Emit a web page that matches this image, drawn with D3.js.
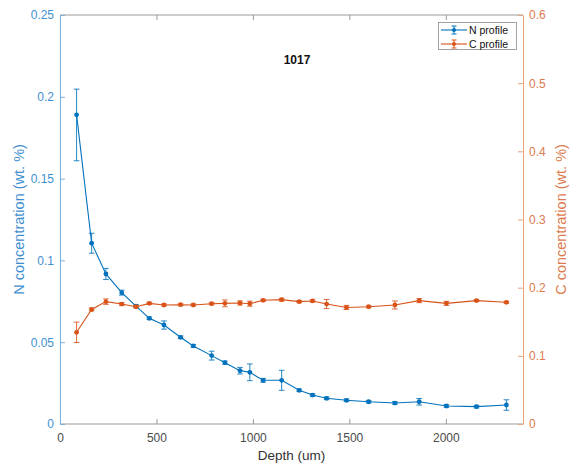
<!DOCTYPE html>
<html>
<head>
<meta charset="utf-8">
<script src="https://cdn.jsdelivr.net/npm/d3@7"></script>
<style>
  html, body { margin: 0; padding: 0; background: #fff; }
  svg { display: block; font-family: "Liberation Sans", Arial, Helvetica, sans-serif; }
</style>
</head>
<body>
<svg id="chart" width="575" height="470"></svg>
<script>
// Depth profile of sample 1017: N and C concentration versus depth
const title = "1017";

const nDepth = [86, 164, 238, 320, 394, 463, 539, 625, 691, 786, 855, 933, 984, 1053, 1149, 1240, 1309, 1382, 1485, 1600, 1736, 1862, 2003, 2159, 2314];
const nValue = [0.189, 0.1105, 0.0917, 0.0803, 0.0721, 0.0646, 0.0605, 0.0530, 0.0477, 0.0418, 0.0375, 0.0326, 0.0316, 0.0267, 0.0267, 0.0206, 0.0177, 0.0157, 0.0145, 0.0136, 0.0128, 0.0136, 0.0110, 0.0106, 0.0116];
// lower and upper error bar lengths
const nErrorLow = [0.0281, 0.0061, 0.0034, 0.0015, 0.0008, 0.0008, 0.0025, 0.0008, 0.0008, 0.0027, 0.0010, 0.0020, 0.0051, 0.0012, 0.0061, 0.0008, 0.0008, 0.0008, 0.0008, 0.0008, 0.0008, 0.0020, 0.0008, 0.0008, 0.0032];
const nErrorHigh = [0.0157, 0.0061, 0.0034, 0.0015, 0.0008, 0.0008, 0.0025, 0.0008, 0.0008, 0.0027, 0.0010, 0.0020, 0.0051, 0.0012, 0.0061, 0.0008, 0.0008, 0.0008, 0.0008, 0.0008, 0.0008, 0.0020, 0.0008, 0.0008, 0.0032];

const cDepth = [86, 164, 238, 320, 394, 463, 539, 625, 691, 786, 855, 933, 984, 1053, 1149, 1240, 1309, 1382, 1485, 1600, 1736, 1862, 2003, 2159, 2314];
const cValue = [0.1345, 0.168, 0.1795, 0.176, 0.172, 0.177, 0.1746, 0.175, 0.1746, 0.1765, 0.177, 0.1775, 0.1765, 0.1815, 0.1824, 0.1795, 0.1805, 0.176, 0.171, 0.172, 0.1746, 0.181, 0.177, 0.181, 0.1785];
const cErrorLow = [0.0149, 0.002, 0.004, 0.002, 0.0015, 0.0015, 0.0015, 0.0015, 0.0015, 0.0015, 0.005, 0.003, 0.0037, 0.0015, 0.002, 0.0015, 0.0015, 0.0066, 0.003, 0.0015, 0.0059, 0.003, 0.003, 0.0015, 0.0015];
const cErrorHigh = [0.0149, 0.002, 0.004, 0.002, 0.0015, 0.0015, 0.0015, 0.0015, 0.0015, 0.0015, 0.005, 0.003, 0.0037, 0.0015, 0.002, 0.0015, 0.0015, 0.0066, 0.003, 0.0015, 0.0059, 0.003, 0.003, 0.0015, 0.0015];

const xTicks = [0, 500, 1000, 1500, 2000];
const nTicks = [0, 0.05, 0.1, 0.15, 0.2, 0.25];
const cTicks = [0, 0.1, 0.2, 0.3, 0.4, 0.5, 0.6];

const seriesNames = ["N profile", "C profile"];
const blue = "#0072BD", orange = "#D95319";
const blueText = "#3f8fd0", orangeText = "#dd7a4e";

const svg = d3.select("#chart");
const m = { left: 60, right: 523, top: 15, bottom: 424 };

const x = d3.scaleLinear().domain([0, 2400]).range([m.left, m.right]);
const yN = d3.scaleLinear().domain([0, 0.25]).range([m.bottom, m.top]);
const yC = d3.scaleLinear().domain([0, 0.6]).range([m.bottom, m.top]);

const tick = 5;

// box: top and bottom lines
svg.append("line").attr("x1", m.left).attr("x2", m.right).attr("y1", m.top).attr("y2", m.top)
  .attr("stroke", "#9a9a9a").attr("stroke-width", 1);
svg.append("line").attr("x1", m.left).attr("x2", m.right).attr("y1", m.bottom).attr("y2", m.bottom)
  .attr("stroke", "#9a9a9a").attr("stroke-width", 1);

// bottom axis (ticks inward) and top mirror ticks
const xAxis = svg.append("g").attr("transform", `translate(0,${m.bottom})`)
  .call(d3.axisBottom(x).tickValues(xTicks).tickSizeInner(-tick).tickSizeOuter(0).tickPadding(9).tickFormat(d3.format("d")));
xAxis.select(".domain").remove();
xAxis.selectAll("line").attr("stroke", "#9a9a9a");
xAxis.selectAll("text").attr("fill", "#4a4a4a").attr("font-size", 12);

const xTop = svg.append("g").attr("transform", `translate(0,${m.top})`)
  .call(d3.axisTop(x).tickValues(xTicks).tickSizeInner(-tick).tickSizeOuter(0).tickFormat(""));
xTop.select(".domain").remove();
xTop.selectAll("line").attr("stroke", "#9a9a9a");

// left axis (N)
const yLeft = svg.append("g").attr("transform", `translate(${m.left},0)`)
  .call(d3.axisLeft(yN).tickValues(nTicks).tickSizeInner(-tick).tickSizeOuter(0).tickPadding(6).tickFormat(d => d3.format("")(+d.toFixed(2))));
yLeft.select(".domain").attr("stroke", "#7fb0dc");
yLeft.selectAll("line").attr("stroke", "#7fb0dc");
yLeft.selectAll("text").attr("fill", blueText).attr("font-size", 12);

// right axis (C)
const yRight = svg.append("g").attr("transform", `translate(${m.right},0)`)
  .call(d3.axisRight(yC).tickValues(cTicks).tickSizeInner(-tick).tickSizeOuter(0).tickPadding(6).tickFormat(d => d3.format("")(+d.toFixed(1))));
yRight.select(".domain").attr("stroke", "#e8a383");
yRight.selectAll("line").attr("stroke", "#e8a383");
yRight.selectAll("text").attr("fill", orangeText).attr("font-size", 12);

// axis labels
svg.append("text").attr("x", (m.left + m.right) / 2).attr("y", 460).attr("text-anchor", "middle")
  .attr("font-size", 13.5).attr("fill", "#333").text("Depth (um)");
svg.append("text").attr("transform", `translate(24,${(m.top + m.bottom) / 2}) rotate(-90)`)
  .attr("text-anchor", "middle").attr("font-size", 14.5).attr("fill", blueText).text("N concentration (wt. %)");
svg.append("text").attr("transform", `translate(566,${(m.top + m.bottom) / 2}) rotate(-90)`)
  .attr("text-anchor", "middle").attr("font-size", 14.5).attr("fill", orangeText).text("C concentration (wt. %)");

// title
svg.append("text").attr("x", 297).attr("y", 64).attr("text-anchor", "middle")
  .attr("font-size", 12).attr("font-weight", "bold").attr("fill", "#111").text(title);

// series drawing
function drawSeries(depth, vals, errLow, errHigh, y, color) {
  const pts = depth.map((d, i) => ({ d, v: vals[i], lo: vals[i] - errLow[i], hi: vals[i] + errHigh[i] }));
  const g = svg.append("g");
  g.append("path").datum(pts)
    .attr("fill", "none").attr("stroke", color).attr("stroke-width", 1.1)
    .attr("d", d3.line().x(p => x(p.d)).y(p => y(p.v)));
  const cap = 2.8;
  const eb = g.selectAll(".eb").data(pts).enter().append("g").attr("stroke", color).attr("stroke-width", 1).attr("opacity", 0.85);
  eb.append("line").attr("x1", p => x(p.d)).attr("x2", p => x(p.d)).attr("y1", p => y(p.lo)).attr("y2", p => y(p.hi));
  eb.append("line").attr("x1", p => x(p.d) - cap).attr("x2", p => x(p.d) + cap).attr("y1", p => y(p.lo)).attr("y2", p => y(p.lo));
  eb.append("line").attr("x1", p => x(p.d) - cap).attr("x2", p => x(p.d) + cap).attr("y1", p => y(p.hi)).attr("y2", p => y(p.hi));
  g.selectAll("circle").data(pts).enter().append("circle")
    .attr("cx", p => x(p.d)).attr("cy", p => y(p.v)).attr("r", 2.4).attr("fill", color);
}
drawSeries(nDepth, nValue, nErrorLow, nErrorHigh, yN, blue);
drawSeries(cDepth, cValue, cErrorLow, cErrorHigh, yC, orange);

// legend
const lg = svg.append("g");
lg.append("rect").attr("x", 438.5).attr("y", 22.5).attr("width", 78).attr("height", 27)
  .attr("fill", "#fff").attr("stroke", "#8a8a8a").attr("stroke-width", 0.8);
[blue, orange].forEach((col, i) => {
  const cy = 30 + i * 14;
  lg.append("line").attr("x1", 441).attr("x2", 467).attr("y1", cy).attr("y2", cy).attr("stroke", col).attr("stroke-width", 1.1);
  lg.append("line").attr("x1", 454).attr("x2", 454).attr("y1", cy - 4).attr("y2", cy + 4).attr("stroke", col);
  lg.append("line").attr("x1", 451.5).attr("x2", 456.5).attr("y1", cy - 4).attr("y2", cy - 4).attr("stroke", col);
  lg.append("line").attr("x1", 451.5).attr("x2", 456.5).attr("y1", cy + 4).attr("y2", cy + 4).attr("stroke", col);
  lg.append("circle").attr("cx", 454).attr("cy", cy).attr("r", 2).attr("fill", col);
  lg.append("text").attr("x", 469).attr("y", cy + 4).attr("font-size", 10.5).attr("fill", "#111").text(seriesNames[i]);
});
</script>
</body>
</html>
